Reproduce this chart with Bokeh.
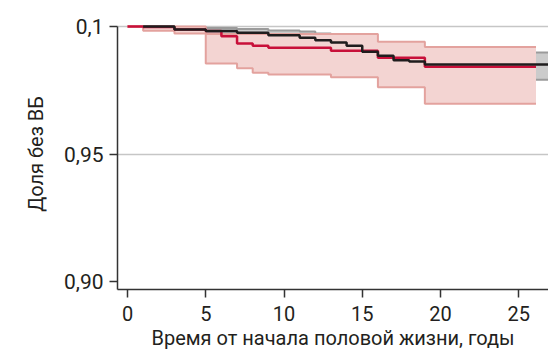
from bokeh.plotting import figure
from bokeh.models import FixedTicker, Range1d
from bokeh.embed import file_html
from bokeh.resources import INLINE

# ---- data ----
# group 1 (red) Kaplan-Meier estimate with its confidence band
red_time = [0, 1, 3, 5, 6, 7, 8, 9, 13, 16, 19, 26.1]
red_surv = [1.0, 0.99985, 0.99882, 0.99824, 0.99620, 0.99333, 0.99243, 0.99169, 0.99047, 0.98773, 0.98420, 0.98420]
red_upper = [1.0, 1.0, 1.0, 0.99706, 0.99706, 0.99706, 0.99706, 0.99706, 0.99706, 0.99400, 0.99196, 0.99196]
red_lower = [1.0, 0.99831, 0.99725, 0.98549, 0.98549, 0.98365, 0.98184, 0.98118, 0.98012, 0.97620, 0.96969, 0.96969]

# group 2 (black) Kaplan-Meier estimate with its confidence band
black_time = [1, 3, 5, 7, 9, 11, 12, 13, 14, 15, 16, 17, 18, 19, 27.5]
black_surv = [1.0, 0.99882, 0.99824, 0.99753, 0.99659, 0.99557, 0.99463, 0.99373, 0.99243, 0.99008, 0.98851, 0.98678, 0.98627, 0.98510, 0.98510]
black_upper = [1.0, 0.99980, 0.99941, 0.99902, 0.99843, 0.99804, 0.99725, 0.99647, 0.99549, 0.99412, 0.99294, 0.99176, 0.99098, 0.98980, 0.98980]
black_lower = [0.99961, 0.99804, 0.99725, 0.99627, 0.99510, 0.99392, 0.99255, 0.99137, 0.98980, 0.98706, 0.98510, 0.98314, 0.98196, 0.97910, 0.97910]

x_ticks = [0, 5, 10, 15, 20, 25]
y_ticks = [0.90, 0.95, 1.0]
y_tick_labels = ["0,90", "0,95", "0,1"]
y_grid_values = [0.95, 1.0]

x_title = "Время от начала половой жизни, годы"
y_title = "Доля без ВБ"

FONT = "Roboto"

p = figure(width=548, height=354, output_backend="svg", toolbar_location=None,
           x_range=Range1d(-0.639, 26.90), y_range=Range1d(0.89687, 1.00314),
           min_border_left=117, min_border_right=0, min_border_top=18, min_border_bottom=65)
p.outline_line_color = None
p.background_fill_color = "white"
p.border_fill_color = "white"

# black group's band (under the red band)
p.varea_step(x=black_time, y1=black_lower, y2=black_upper, step_mode="after",
             fill_color="#cbcbcb")
p.step(black_time, black_upper, mode="after", line_color="#9b9b9b", line_width=2)
p.step(black_time, black_lower, mode="after", line_color="#9b9b9b", line_width=2)

# red group's band
p.varea_step(x=red_time, y1=red_lower, y2=red_upper, step_mode="after",
             fill_color="#f3d4d2")
p.step(red_time, red_upper, mode="after", line_color="#e3a29e", line_width=2)
p.step(red_time, red_lower, mode="after", line_color="#e3a29e", line_width=2)

# survival curves
p.step(red_time, red_surv, mode="after", line_color="#c8103a", line_width=2.5)
p.step(black_time, black_surv, mode="after", line_color="#1f1d1e", line_width=2.5)

# grid
p.xgrid.visible = False
p.ygrid.ticker = FixedTicker(ticks=y_grid_values)
p.ygrid.grid_line_color = "#c6c6c6"
p.ygrid.grid_line_width = 1.5

# axes
for ax in (p.xaxis[0], p.yaxis[0]):
    ax.axis_line_color = "#333333"
    ax.axis_line_width = 1.5
    ax.major_tick_line_color = "#333333"
    ax.major_tick_line_width = 1.5
    ax.major_tick_out = 8
    ax.major_tick_in = 0
    ax.minor_tick_line_color = None
    ax.major_label_text_font = FONT
    ax.major_label_text_color = "#231f20"
    ax.axis_label_text_font = FONT
    ax.axis_label_text_font_style = "normal"
    ax.axis_label_text_color = "#231f20"

p.xaxis.ticker = FixedTicker(ticks=x_ticks)
p.xaxis.major_label_text_font_size = "20px"
p.xaxis.major_label_standoff = 8
p.xaxis.axis_label = x_title
p.xaxis.axis_label_text_font_size = "20px"
p.xaxis.axis_label_standoff = 2

p.yaxis.ticker = FixedTicker(ticks=y_ticks)
p.yaxis.major_label_overrides = {v: s for v, s in zip(y_ticks, y_tick_labels)}
p.yaxis.major_label_text_font_size = "21px"
p.yaxis.major_label_standoff = 6
p.yaxis.bounds = (0.89687, 1.0)
p.yaxis.axis_label = y_title
p.yaxis.axis_label_text_font_size = "20px"
p.yaxis.axis_label_standoff = 13

open("out.html", "w").write(file_html(p, INLINE))
